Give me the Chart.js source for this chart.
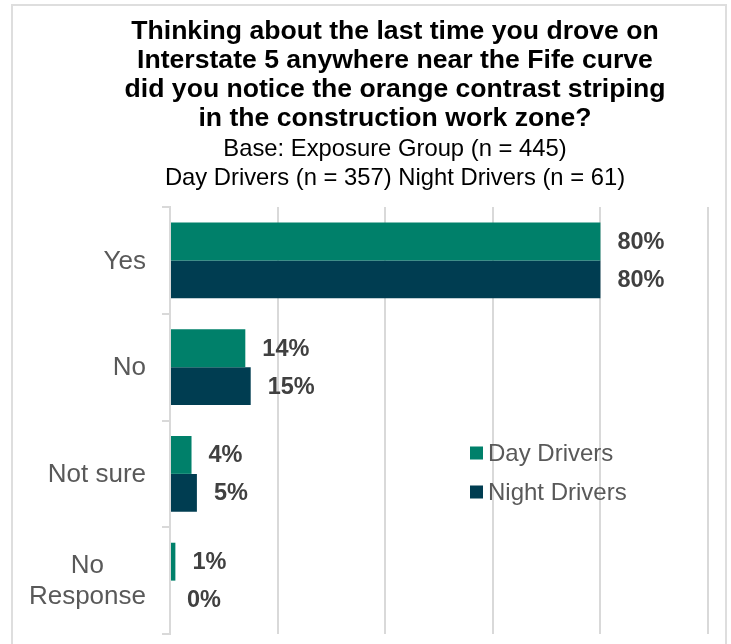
<!DOCTYPE html>
<html>
<head>
<meta charset="utf-8">
<title>Orange contrast striping – I-5 Fife curve</title>
<script src="https://cdn.jsdelivr.net/npm/chart.js@4/dist/chart.umd.min.js"></script>
<style>
  html, body { margin: 0; padding: 0; background: #fff; }
  body { width: 731px; height: 644px; overflow: hidden; position: relative;
         font-family: "Liberation Sans", Arial, sans-serif; }
  #frame { position: absolute; left: 11px; top: 4px; width: 716px; height: 720px;
           border: 2px solid #dedede; box-sizing: border-box; }
  #chart { position: absolute; left: 0; top: 0; }
  #heading { position: absolute; left: 60px; top: 16px; width: 670px; text-align: center; color: #000; }
  #heading .main { font-weight: bold; font-size: 26.6px; line-height: 29px; }
  #heading .sub { font-size: 23.8px; line-height: 29px; margin-top: 1px; }
</style>
</head>
<body>
<div id="frame"></div>
<canvas id="chart" width="731" height="644"></canvas>
<div id="heading">
  <div class="main">Thinking about the last time you drove on<br>Interstate 5 anywhere near the Fife curve<br>did you notice the orange contrast striping<br>in the construction work zone?</div>
  <div class="sub">Base: Exposure Group (n = 445)<br>Day Drivers (n = 357) Night Drivers (n = 61)</div>
</div>
<script>
// survey answers, percent of respondents
const categories   = ['Yes', 'No', 'Not sure', ['No', 'Response']];
const seriesNames  = ['Day Drivers', 'Night Drivers'];
const dayDrivers   = [80, 14, 4, 1];
const nightDrivers = [80, 15, 5, 0];
const axisMax  = 100;
const axisStep = 20;

document.addEventListener('DOMContentLoaded', () => {
  const FONT = '"Liberation Sans", Arial, sans-serif';
  const GRID = '#d9d9d9';
  const colors = ['#00806a', '#003d51'];

  // percent labels to the right of each bar
  const valueLabels = {
    id: 'valueLabels',
    afterDatasetsDraw(chart) {
      const ctx = chart.ctx;
      ctx.save();
      ctx.font = 'bold 23.5px ' + FONT;
      ctx.fillStyle = '#404040';
      ctx.textAlign = 'left';
      ctx.textBaseline = 'middle';
      chart.data.datasets.forEach((ds, i) => {
        chart.getDatasetMeta(i).data.forEach((bar, j) => {
          ctx.fillText(ds.data[j] + '%', bar.x + 17, bar.y + 1);
        });
      });
      ctx.restore();
    }
  };

  // category names: block right-aligned, lines centred on each other
  const categoryLabels = {
    id: 'categoryLabels',
    afterDraw(chart) {
      const ctx = chart.ctx;
      const y = chart.scales.y;
      const right = y.right - 24;
      ctx.save();
      ctx.font = '26px ' + FONT;
      ctx.fillStyle = '#595959';
      ctx.textAlign = 'center';
      ctx.textBaseline = 'middle';
      chart.data.labels.forEach((lab, i) => {
        const lines = Array.isArray(lab) ? lab : [lab];
        const w = Math.max(...lines.map(l => ctx.measureText(l).width));
        const cy = y.getPixelForValue(i);
        lines.forEach((l, k) => {
          ctx.fillText(l, right - w / 2, cy + (k - (lines.length - 1) / 2) * 31 + 1);
        });
      });
      ctx.restore();
    }
  };

  // stacked legend sitting inside the plot
  const boxLegend = {
    id: 'boxLegend',
    afterDraw(chart) {
      const ctx = chart.ctx;
      const a = chart.chartArea;
      const x = a.left + 300;
      let yy = a.top + 246;
      ctx.save();
      ctx.font = '24px ' + FONT;
      ctx.textBaseline = 'middle';
      chart.data.datasets.forEach(ds => {
        ctx.fillStyle = ds.backgroundColor;
        ctx.fillRect(x, yy - 6.5, 13, 13);
        ctx.fillStyle = '#595959';
        ctx.fillText(ds.label, x + 18, yy + 1);
        yy += 39;
      });
      ctx.restore();
    }
  };

  new Chart(document.getElementById('chart'), {
    type: 'bar',
    data: {
      labels: categories,
      datasets: [
        { label: seriesNames[0], data: dayDrivers, backgroundColor: colors[0] },
        { label: seriesNames[1], data: nightDrivers, backgroundColor: colors[1] }
      ]
    },
    options: {
      indexAxis: 'y',
      responsive: false,
      animation: false,
      devicePixelRatio: 1,
      categoryPercentage: 0.71,
      barPercentage: 1.0,
      layout: { padding: { left: 12, top: 207, right: 23, bottom: 10 } },
      plugins: {
        legend: { display: false },
        title: { display: false },
        tooltip: { enabled: false }
      },
      scales: {
        x: {
          min: 0,
          max: axisMax,
          ticks: { display: false, stepSize: axisStep },
          grid: { color: GRID, lineWidth: 2, drawTicks: false },
          border: { display: false }
        },
        y: {
          ticks: { display: false },
          grid: { offset: true, drawOnChartArea: false, drawTicks: true, tickLength: 8, color: GRID, lineWidth: 2 },
          border: { display: true, color: GRID, width: 2 },
          afterFit(scale) { scale.width = 158; }
        }
      }
    },
    plugins: [valueLabels, categoryLabels, boxLegend]
  });
});
</script>
</body>
</html>
